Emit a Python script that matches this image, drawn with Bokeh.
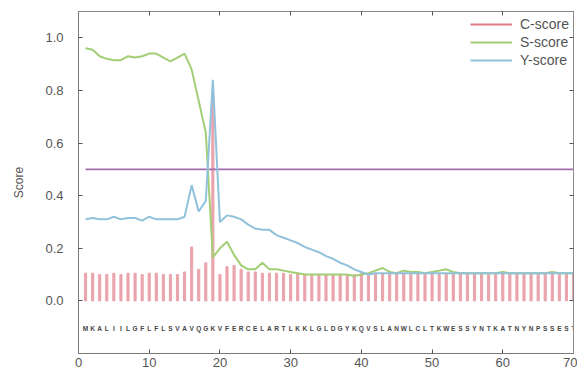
from bokeh.plotting import figure
from bokeh.models import (Range1d, LinearAxis, FixedTicker, Legend, LegendItem,
                          PrintfTickFormatter, CustomLabelingPolicy)
from bokeh.core.properties import value
from bokeh.embed import file_html
from bokeh.resources import INLINE

positions = list(range(1, 71))
sequence = list("MKALIILGFLFLSVAVQGKVFERCELARTLKKLGLDGYKQVSLANWLCLTKWESSYNTKATNYNPSSEST")

c_score = [0.105, 0.105, 0.100, 0.100, 0.105, 0.100, 0.105, 0.105, 0.100, 0.105,
           0.105, 0.100, 0.100, 0.100, 0.110, 0.205, 0.120, 0.145, 0.780, 0.100,
           0.130, 0.135, 0.120, 0.110, 0.110, 0.105, 0.105, 0.105, 0.105, 0.100,
           0.105, 0.100, 0.100, 0.100, 0.100, 0.100, 0.100, 0.100, 0.100, 0.105,
           0.105, 0.105, 0.105, 0.105, 0.105, 0.105, 0.105, 0.105, 0.105, 0.105,
           0.105, 0.105, 0.105, 0.105, 0.105, 0.105, 0.105, 0.105, 0.105, 0.105,
           0.105, 0.105, 0.105, 0.105, 0.105, 0.105, 0.105, 0.105, 0.105, 0.105]

s_score = [0.960, 0.955, 0.930, 0.920, 0.915, 0.915, 0.930, 0.925, 0.930, 0.940,
           0.940, 0.925, 0.910, 0.925, 0.940, 0.880, 0.760, 0.640, 0.165, 0.200,
           0.225, 0.175, 0.135, 0.120, 0.120, 0.145, 0.120, 0.120, 0.115, 0.110,
           0.105, 0.100, 0.100, 0.100, 0.100, 0.100, 0.100, 0.100, 0.095, 0.100,
           0.105, 0.115, 0.125, 0.110, 0.105, 0.115, 0.110, 0.110, 0.105, 0.110,
           0.115, 0.120, 0.110, 0.105, 0.105, 0.105, 0.105, 0.105, 0.105, 0.110,
           0.105, 0.105, 0.105, 0.105, 0.105, 0.105, 0.110, 0.105, 0.105, 0.105]

y_score = [0.310, 0.315, 0.310, 0.310, 0.320, 0.310, 0.315, 0.315, 0.305, 0.320,
           0.310, 0.310, 0.310, 0.310, 0.320, 0.440, 0.340, 0.380, 0.840, 0.300,
           0.325, 0.320, 0.310, 0.290, 0.275, 0.270, 0.270, 0.250, 0.240, 0.230,
           0.220, 0.205, 0.195, 0.185, 0.170, 0.160, 0.145, 0.135, 0.120, 0.110,
           0.100, 0.105, 0.105, 0.105, 0.105, 0.105, 0.105, 0.105, 0.105, 0.105,
           0.105, 0.105, 0.105, 0.105, 0.105, 0.105, 0.105, 0.105, 0.105, 0.105,
           0.105, 0.105, 0.105, 0.105, 0.105, 0.105, 0.105, 0.105, 0.105, 0.105]

cutoff = 0.5
x_ticks = [0, 10, 20, 30, 40, 50, 60, 70]
y_ticks = [0.0, 0.2, 0.4, 0.6, 0.8, 1.0]
seq_y = -0.105

FONT = "Liberation Sans"
C_COL = "#e9a4ac"
C_LEG = "#e07b84"
S_COL = "#a2ce76"
Y_COL = "#90c2dc"
CUT_COL = "#a66bb0"
TXT = "#555555"

p = figure(width=577, height=373, output_backend="svg", toolbar_location=None,
           x_range=Range1d(0, 70), y_range=Range1d(-0.2, 1.1),
           min_border_left=78, min_border_right=0, min_border_top=11, min_border_bottom=20)
p.outline_line_color = "#8a8a8a"
p.grid.visible = False
p.background_fill_color = "white"

for ax in p.xaxis + p.yaxis:
    ax.major_tick_in = 4
    ax.major_tick_out = 0
    ax.minor_tick_line_color = None
    ax.axis_line_color = "#7a7a7a"
    ax.major_tick_line_color = "#555555"
    ax.major_label_text_font = FONT
    ax.major_label_text_font_size = "13px"
    ax.major_label_text_color = TXT
p.xaxis.ticker = FixedTicker(ticks=x_ticks)
p.yaxis.ticker = FixedTicker(ticks=y_ticks)
p.yaxis.formatter = PrintfTickFormatter(format="%.1f")
p.xaxis.major_label_standoff = 4
p.yaxis.major_label_standoff = 15
p.yaxis.axis_label = "Score"
p.yaxis.axis_label_text_font = FONT
p.yaxis.axis_label_text_font_style = "normal"
p.yaxis.axis_label_text_font_size = "12px"
p.yaxis.axis_label_text_color = TXT
p.yaxis.axis_label_standoff = 16

hide_all = "for (const i of indices) indices.unset(i)"
top_ax = LinearAxis(ticker=FixedTicker(ticks=x_ticks),
                    major_label_policy=CustomLabelingPolicy(code=hide_all),
                    major_label_text_font_size="1px",
                    major_label_standoff=0, major_tick_in=4, major_tick_out=0,
                    minor_tick_line_color=None, axis_line_color="#8a8a8a",
                    major_tick_line_color="#555555")
right_ax = LinearAxis(ticker=FixedTicker(ticks=y_ticks),
                      major_label_policy=CustomLabelingPolicy(code=hide_all),
                      major_label_text_font_size="1px",
                      major_label_standoff=0, major_tick_in=4, major_tick_out=0,
                      minor_tick_line_color=None, axis_line_color="#8a8a8a",
                      major_tick_line_color="#555555")
p.add_layout(top_ax, "above")
p.add_layout(right_ax, "right")

c_r = p.vbar(x=positions, top=c_score, bottom=0, width=0.3, color=C_COL)
p.line([positions[0], positions[-1] + 1], [cutoff, cutoff], color=CUT_COL, line_width=1.6)
s_r = p.line(positions, s_score, color=S_COL, line_width=2)
y_r = p.line(positions, y_score, color=Y_COL, line_width=2)

p.text(x=positions, y=[seq_y] * len(positions), text=sequence,
       text_font=value(FONT), text_font_size="6.5px", text_font_style="bold",
       text_color="#444444", text_align="center", text_baseline="middle")

c_leg = p.line([positions[0]], [c_score[0]], color=C_LEG, line_width=2, visible=False)
legend = Legend(items=[LegendItem(label="C-score", renderers=[c_leg]),
                       LegendItem(label="S-score", renderers=[s_r]),
                       LegendItem(label="Y-score", renderers=[y_r])],
                location="top_right", border_line_color=None, background_fill_alpha=0,
                label_text_font=FONT, label_text_font_size="14px", label_text_color=TXT,
                glyph_width=42, spacing=0, padding=2, margin=4,
                label_height=18, glyph_height=18, label_standoff=8)
p.add_layout(legend)

open("out.html", "w").write(file_html(p, INLINE))
